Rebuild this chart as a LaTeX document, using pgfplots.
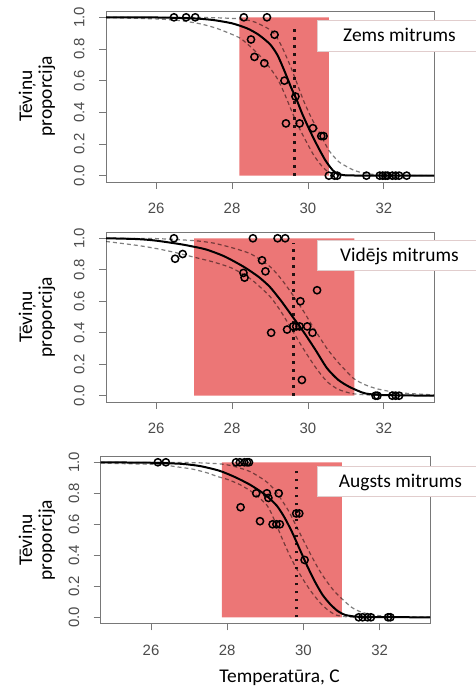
\documentclass[border=0pt]{standalone}
\usepackage{fontspec}
\setmainfont{Carlito}
\newfontfamily\arialf{Liberation Sans}
\usepackage{pgfplots}
\pgfplotsset{compat=1.18}

\definecolor{axgray}{RGB}{120,120,120}
\definecolor{labgray}{RGB}{75,75,75}
\definecolor{rectred}{RGB}{236,118,118}
\definecolor{boxline}{RGB}{225,205,205}

\pgfplotsset{
  panel/.style={
    scale only axis, anchor=south west,
    xmin=24.68, xmax=33.32, ymin=-0.04, ymax=1.04,
    axis line style={draw=axgray, line width=0.9bp},
    tick style={draw=axgray, line width=0.9bp},
    tick align=outside, major tick length=7bp,
    xtick={26,28,30,32}, xticklabels={26,28,30,32},
    ytick={0,0.2,0.4,0.6,0.8,1}, yticklabels={0.0,0.2,0.4,0.6,0.8,1.0},
    xtick pos=bottom, ytick pos=left,
    tick label style={font=\arialf\fontsize{15}{15}\selectfont, text=labgray},
    yticklabel style={rotate=90, anchor=south},
    yticklabel shift=11bp, xticklabel shift=11bp,
  },
  fit/.style={black, line width=2bp, no marks, smooth, tension=0.4},
  band/.style={black, draw opacity=0.5, line width=1.2bp, dash pattern=on 4bp off 3bp, no marks, smooth, tension=0.4},
  pts/.style={only marks, mark=o, mark size=3.6bp, mark options={line width=1.5bp, black}},
  vline/.style={black, draw opacity=0.85, line width=3bp, dash pattern=on 2.5bp off 5.5bp, no marks},
  shade/.style={draw=none, fill=rectred, no marks},
}

\begin{document}
\begin{tikzpicture}[x=1bp,y=1bp]
\useasboundingbox (0,0) rectangle (476,689);

% ---- zems mitrums
\begin{axis}[panel, at={(106bp,507bp)}, width=328bp, height=171bp]
\addplot[shade] coordinates {(28.19,0)(30.55,0)(30.55,1)(28.19,1)(28.19,0)};
\addplot[band] coordinates {(24.68,0.998)(26,0.99)(26.6,0.98)(27.14,0.96)(27.6,0.93)(28.2,0.87)(28.55,0.80)(28.8,0.74)(29.0,0.68)(29.2,0.61)(29.36,0.53)(29.55,0.42)(29.71,0.33)(29.9,0.24)(30.15,0.13)(30.35,0.065)(30.5,0.03)(30.7,0.01)(31,0.002)(33.32,0)};
\addplot[band] coordinates {(24.68,1)(27,0.999)(27.6,0.997)(28.2,0.99)(28.6,0.97)(29.07,0.91)(29.3,0.82)(29.54,0.69)(29.7,0.59)(29.89,0.47)(30.1,0.36)(30.33,0.26)(30.55,0.16)(30.8,0.09)(31.0,0.06)(31.2,0.035)(31.4,0.02)(31.65,0.01)(32,0.003)(33.32,0)};
\addplot[fit] coordinates {(24.68,1)(26,0.999)(27,0.993)(27.5,0.983)(28,0.962)(28.4,0.93)(28.7,0.89)(29.0,0.83)(29.2,0.76)(29.4,0.65)(29.55,0.56)(29.7,0.48)(29.85,0.39)(30.0,0.31)(30.15,0.235)(30.3,0.165)(30.45,0.10)(30.55,0.065)(30.65,0.035)(30.75,0.015)(30.9,0.005)(31.2,0.001)(33.32,0)};
\addplot[pts] table {
26.47 1
26.79 1
27.03 1
28.31 1
28.92 1
29.12 0.89
28.50 0.86
28.59 0.75
28.85 0.71
29.38 0.60
29.67 0.50
29.42 0.33
29.78 0.33
30.13 0.30
30.35 0.25
30.41 0.25
30.55 0
30.70 0
30.77 0
31.54 0
31.89 0
31.97 0
32.04 0
32.10 0
32.22 0
32.31 0
32.40 0
32.60 0
};
\addplot[vline] coordinates {(29.64,0)(29.64,0.96)};
\end{axis}

% ---- vidējs mitrums
\begin{axis}[panel, at={(106bp,287bp)}, width=328bp, height=170bp]
\addplot[shade] coordinates {(27.0,0)(31.22,0)(31.22,1)(27.0,1)(27.0,0)};
\addplot[band] coordinates {(24.68,1.0)(26,0.998)(27,0.985)(27.5,0.97)(28,0.94)(28.5,0.90)(29.0,0.82)(29.3,0.74)(29.6,0.64)(29.9,0.53)(30.15,0.43)(30.5,0.30)(30.8,0.21)(31.2,0.11)(31.5,0.07)(31.8,0.045)(32.2,0.025)(32.6,0.015)(33.32,0.005)};
\addplot[band] coordinates {(24.68,0.98)(25.5,0.955)(26,0.935)(26.5,0.91)(27,0.88)(27.5,0.85)(28,0.81)(28.5,0.74)(29,0.63)(29.3,0.53)(29.6,0.41)(29.9,0.29)(30.2,0.18)(30.5,0.09)(30.8,0.04)(31.2,0.012)(31.8,0.003)(33.32,0)};
\addplot[fit] coordinates {(24.68,1.0)(25.5,0.995)(26,0.985)(26.7,0.96)(27.3,0.93)(27.8,0.885)(28.3,0.82)(28.7,0.755)(29.0,0.69)(29.3,0.60)(29.6,0.50)(29.9,0.40)(30.2,0.29)(30.5,0.175)(30.8,0.10)(31.1,0.055)(31.5,0.015)(32,0.004)(33.32,0.0)};
\addplot[pts] table {
26.47 1
26.50 0.87
26.70 0.90
28.55 1
29.20 1
29.40 1
28.79 0.86
28.88 0.79
28.30 0.78
28.33 0.75
30.24 0.67
29.80 0.60
29.45 0.42
29.61 0.44
29.69 0.44
29.78 0.44
29.98 0.44
30.12 0.40
29.03 0.40
29.84 0.10
31.78 0
31.83 0
32.22 0
32.31 0
32.40 0
};
\addplot[vline] coordinates {(29.62,0)(29.62,0.97)};
\end{axis}

% ---- augsts mitrums
\begin{axis}[panel, at={(100.7bp,65.5bp)}, width=329.3bp, height=167.4bp]
\addplot[shade] coordinates {(27.86,0)(31.01,0)(31.01,1)(27.86,1)(27.86,0)};
\addplot[band] coordinates {(24.68,1.0)(27,0.998)(27.8,0.99)(28.16,0.975)(28.6,0.94)(29.0,0.88)(29.25,0.82)(29.6,0.69)(29.95,0.52)(30.2,0.40)(30.4,0.31)(30.6,0.235)(30.82,0.165)(31.05,0.11)(31.26,0.065)(31.45,0.04)(31.66,0.024)(32,0.01)(32.5,0.003)(33.32,0)};
\addplot[band] coordinates {(24.68,0.995)(25.5,0.99)(26.24,0.985)(26.7,0.97)(27.11,0.955)(27.5,0.93)(27.72,0.91)(28.0,0.89)(28.34,0.855)(28.7,0.80)(29.05,0.72)(29.25,0.62)(29.42,0.52)(29.6,0.42)(29.77,0.335)(30.0,0.24)(30.21,0.163)(30.45,0.09)(30.65,0.045)(30.85,0.015)(31.1,0.004)(31.5,0.0)(33.32,0)};
\addplot[fit] coordinates {(24.68,1.0)(26,0.997)(26.8,0.99)(27.3,0.975)(27.8,0.945)(28.2,0.905)(28.6,0.855)(29.0,0.79)(29.3,0.72)(29.5,0.645)(29.7,0.55)(29.9,0.44)(30.1,0.33)(30.3,0.23)(30.5,0.145)(30.7,0.085)(30.9,0.04)(31.1,0.015)(31.4,0.004)(32,0.001)(33.32,0)};
\addplot[pts] table {
26.18 1
26.39 1
28.23 1
28.33 1
28.45 1
28.52 1
28.57 1
28.35 0.71
28.76 0.80
29.04 0.80
29.08 0.77
29.35 0.80
28.86 0.62
29.19 0.60
29.29 0.60
29.38 0.60
29.81 0.67
29.89 0.67
30.03 0.37
31.45 0
31.55 0
31.68 0
31.77 0
32.22 0
32.28 0
};
\addplot[vline] coordinates {(29.82,0)(29.82,0.95)};
\end{axis}

% ---- condition boxes
\draw[boxline, line width=0.6bp, fill=white] (317,668.3) rectangle (478,637.5);
\node[anchor=base west, inner sep=0pt, font=\fontsize{19.5}{20}\selectfont] at (343,647.3) {Zems mitrums};
\draw[boxline, line width=0.6bp, fill=white] (317,448.3) rectangle (478,418.3);
\node[anchor=base west, inner sep=0pt, font=\fontsize{19.5}{20}\selectfont] at (340,427.3) {Vidējs mitrums};
\draw[boxline, line width=0.6bp, fill=white] (317,223) rectangle (478,192.7);
\node[anchor=base west, inner sep=0pt, font=\fontsize{19.5}{20}\selectfont] at (338.7,201.8) {Augsts mitrums};

% ---- axis titles
\node[rotate=90, align=center, font=\fontsize{19.5}{20}\selectfont] at (37,593) {Tēviņu\\proporcija};
\node[rotate=90, align=center, font=\fontsize{19.5}{20}\selectfont] at (37,372) {Tēviņu\\proporcija};
\node[rotate=90, align=center, font=\fontsize{19.5}{20}\selectfont] at (37,149) {Tēviņu\\proporcija};
\node[font=\fontsize{19.5}{20}\selectfont] at (279.5,11) {Temperatūra, C};
\end{tikzpicture}
\end{document}
